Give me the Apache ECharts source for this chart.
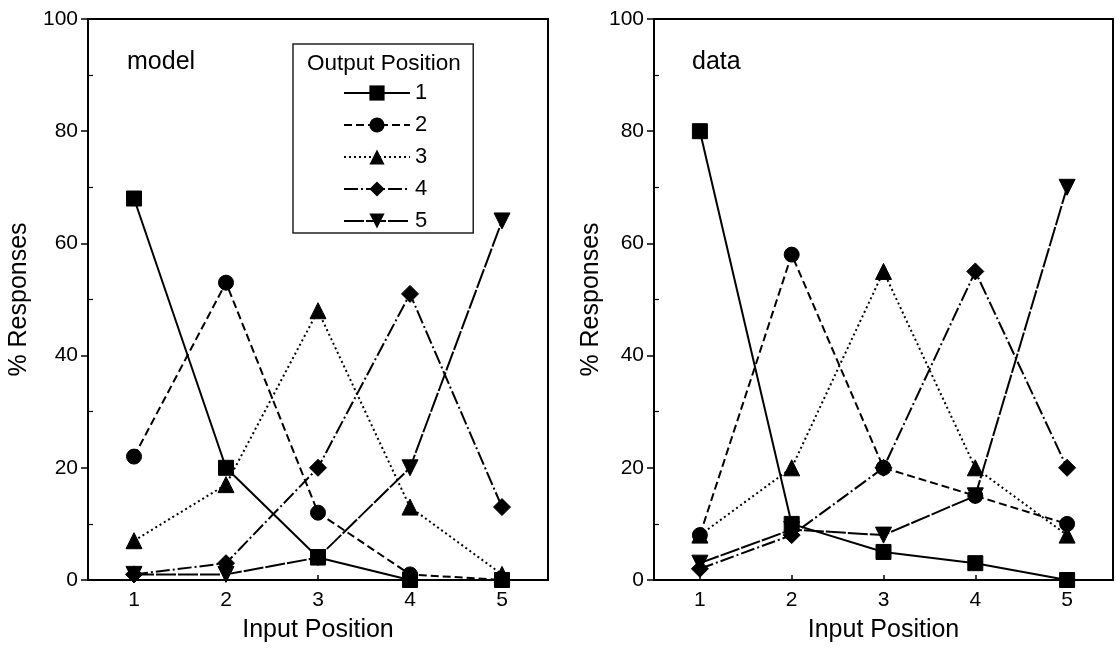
<!DOCTYPE html>
<html>
<head>
<meta charset="utf-8">
<script src="https://cdn.jsdelivr.net/npm/echarts@6/dist/echarts.min.js"></script>
<style>
  html, body { margin: 0; padding: 0; background: #fff; }
  #chart { width: 1116px; height: 648px; }
</style>
</head>
<body>
<div id="chart"></div>
<script>
// Input positions along the x axis
const inputPositions = ['1', '2', '3', '4', '5'];
// Output position names (legend)
const outputPositions = ['1', '2', '3', '4', '5'];

// Model: % responses per output position, by input position
const model1 = [68, 20, 4, 0, 0];
const model2 = [22, 53, 12, 1, 0];
const model3 = [7, 17, 48, 13, 1];
const model4 = [1, 3, 20, 51, 13];
const model5 = [1, 1, 4, 20, 64];

// Data: % responses per output position, by input position
const data1 = [80, 10, 5, 3, 0];
const data2 = [8, 58, 20, 15, 10];
const data3 = [8, 20, 55, 20, 8];
const data4 = [2, 8, 20, 55, 20];
const data5 = [3, 9, 8, 15, 70];

const yTicks = [0, 20, 40, 60, 80, 100];

const FONT = 'Liberation Sans, Arial, sans-serif';

// marker + dash pattern for each output position
const styles = [
  { symbol: 'rect', type: 'solid', size: 15 },
  { symbol: 'circle', type: [8, 4], size: 15 },
  { symbol: 'triangle', type: [2, 3], size: 16 },
  { symbol: 'diamond', type: [14, 3, 2, 3], size: 17 },
  { symbol: 'path://M0,0 L10,0 L5,9 Z', type: [20, 2], size: 16 }
];

const modelSeries = [model1, model2, model3, model4, model5];
const dataSeries = [data1, data2, data3, data4, data5];

function makeSeries(values, idx, gridIdx) {
  const s = styles[idx];
  return {
    name: outputPositions[idx],
    type: 'line',
    xAxisIndex: gridIdx,
    yAxisIndex: gridIdx * 2,
    data: values,
    symbol: s.symbol,
    symbolSize: s.size,
    showAllSymbol: true,
    lineStyle: { color: '#000', width: 2, type: s.type },
    itemStyle: { color: '#000', borderColor: '#000' },
    emphasis: { disabled: true },
    animation: false,
    z: 3
  };
}

function xAxis(gridIdx) {
  return {
    type: 'category',
    gridIndex: gridIdx,
    data: inputPositions,
    boundaryGap: true,
    name: 'Input Position',
    nameLocation: 'middle',
    nameGap: 38,
    nameTextStyle: { fontFamily: FONT, fontSize: 25, color: '#000' },
    axisLine: { show: true, lineStyle: { color: '#000', width: 2 } },
    axisTick: { show: true, inside: true, alignWithLabel: true, length: 5, lineStyle: { color: '#000', width: 1.5 } },
    axisLabel: { fontFamily: FONT, fontSize: 21, color: '#000', margin: 10 },
    splitLine: { show: false }
  };
}

// main y axis: labels, outward major ticks, title
function yAxis(gridIdx, gap) {
  return {
    type: 'value',
    gridIndex: gridIdx,
    min: yTicks[0],
    max: yTicks[yTicks.length - 1],
    interval: 20,
    name: '% Responses',
    nameLocation: 'middle',
    nameGap: gap,
    nameRotate: 90,
    nameTextStyle: { fontFamily: FONT, fontSize: 25, color: '#000' },
    axisLine: { show: true, lineStyle: { color: '#000', width: 2 } },
    axisTick: { show: true, length: 7, lineStyle: { color: '#000', width: 1.5 } },
    axisLabel: { fontFamily: FONT, fontSize: 21, color: '#000', margin: 10 },
    splitLine: { show: false }
  };
}

// companion y axis carrying only the inward minor ticks
function yMinor(gridIdx) {
  return {
    type: 'value',
    gridIndex: gridIdx,
    position: 'left',
    min: yTicks[0],
    max: yTicks[yTicks.length - 1],
    interval: 20,
    axisLine: { show: false },
    axisTick: { show: false, inside: true },
    minorTick: { show: true, splitNumber: 2, length: 5, lineStyle: { color: '#000', width: 1.2 } },
    axisLabel: { show: false },
    splitLine: { show: false }
  };
}

const chart = echarts.init(document.getElementById('chart'), null, { renderer: 'canvas' });

const series = [];
modelSeries.forEach((v, i) => series.push(makeSeries(v, i, 0)));
dataSeries.forEach((v, i) => series.push(makeSeries(v, i, 1)));

const panelText = { fontFamily: FONT, fontSize: 25, fontWeight: 'normal', color: '#000' };

chart.setOption({
  backgroundColor: '#fff',
  animation: false,
  title: [
    { text: 'model', left: 127, top: 50, padding: 0, textStyle: panelText },
    { text: 'data', left: 692, top: 50, padding: 0, textStyle: panelText },
    { text: 'Output Position', left: 307, top: 52, padding: 0,
      textStyle: { fontFamily: FONT, fontSize: 22.5, fontWeight: 'normal', color: '#000' } }
  ],
  grid: [
    { left: 88, top: 19, width: 460, height: 563, show: true, borderColor: '#000', borderWidth: 2, backgroundColor: 'transparent' },
    { left: 654, top: 19, width: 459, height: 563, show: true, borderColor: '#000', borderWidth: 2, backgroundColor: 'transparent' }
  ],
  legend: {
    data: outputPositions,
    orient: 'vertical',
    left: 293,
    top: 44,
    padding: [38, 46, 1, 50],
    itemWidth: 66,
    itemHeight: 19,
    itemGap: 10,
    borderColor: '#222',
    borderWidth: 1.5,
    backgroundColor: 'transparent',
    selectedMode: false,
    textStyle: { fontFamily: FONT, fontSize: 22, lineHeight: 22, color: '#000' },
    itemStyle: { color: '#000' },
    lineStyle: { color: '#000', width: 2 }
  },
  xAxis: [xAxis(0), xAxis(1)],
  yAxis: [yAxis(0, 56), yMinor(0), yAxis(1, 50), yMinor(1)],
  series: series
});
</script>
</body>
</html>
